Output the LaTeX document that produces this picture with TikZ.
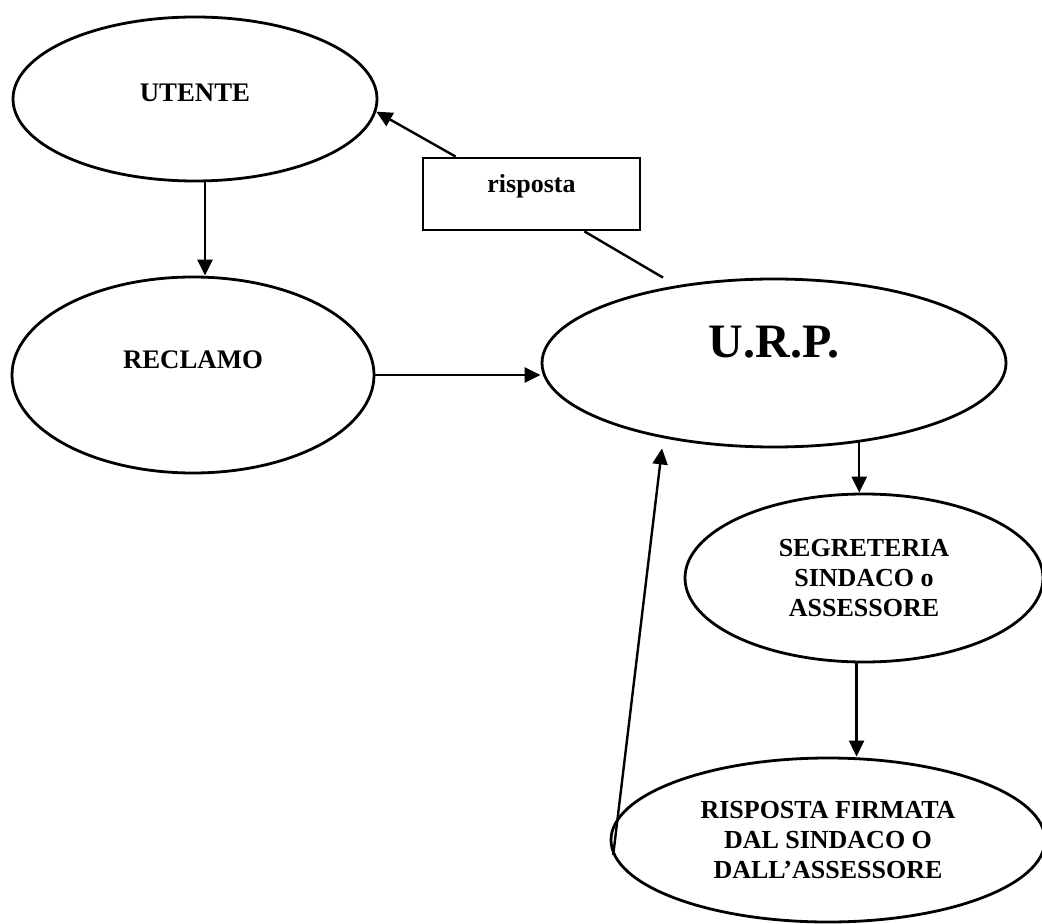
\documentclass[tikz,border=0pt]{standalone}
\usepackage{fontspec}
\setmainfont{Liberation Serif}
\usetikzlibrary{shapes.geometric,arrows.meta}
\begin{document}
\begin{tikzpicture}[x=0.5pt,y=-0.5pt,
  oval/.style={ellipse, draw, line width=1.4pt, inner sep=0pt, align=center, font=\bfseries\fontsize{13.4}{15}\selectfont},
  fleche/.style={line width=1.2pt, -{Triangle[length=8pt,width=7.5pt]}},
  trait/.style={line width=1.2pt}]
\useasboundingbox (0,0) rectangle (1042,924);
\node[oval, minimum width=182pt, minimum height=82pt, text height=8.9pt, text depth=6pt] (utente) at (195,99) {UTENTE};
\node[oval, minimum width=181pt, minimum height=98pt, text height=8.9pt, text depth=15pt] (reclamo) at (193,375) {RECLAMO};
\node[oval, minimum width=232pt, minimum height=84pt, font=\bfseries\fontsize{24}{28}\selectfont, text height=15.8pt, text depth=21pt] (urp) at (774,363) {U.R.P.};
\node[oval, minimum width=179pt, minimum height=84pt, font=\bfseries\fontsize{13}{15}\selectfont] (segreteria) at (864,578) {SEGRETERIA\\SINDACO o\\ASSESSORE};
\node[oval, minimum width=217pt, minimum height=82pt, font=\bfseries\fontsize{13}{15}\selectfont] (firmata) at (828,840) {RISPOSTA FIRMATA\\DAL SINDACO O\\DALL’ASSESSORE};
\node[draw, line width=1.4pt, inner sep=0pt, minimum width=108.5pt, minimum height=36pt, font=\bfseries\fontsize{13}{15}\selectfont, text height=8.8pt, text depth=10pt] (risposta) at (531.5,194) {risposta};
\draw[fleche] ([xshift=5pt]utente.south) -- ([xshift=6pt]reclamo.north);
\draw[fleche] (reclamo.east) -- (reclamo.east -| urp.west);
\draw[trait] ([xshift=-28.5pt]risposta.south east) -- ([xshift=-55.5pt]urp.north);
\draw[fleche] ([xshift=17pt]risposta.north west) -- (utente.-4);
\draw[fleche] (urp.-43) -- (urp.-43 |- segreteria.north);
\draw[fleche] (segreteria.-95) -- (segreteria.-95 |- firmata.north);
\draw[fleche] (firmata.184) -- ([xshift=-56pt]urp.south);
\end{tikzpicture}
\end{document}
